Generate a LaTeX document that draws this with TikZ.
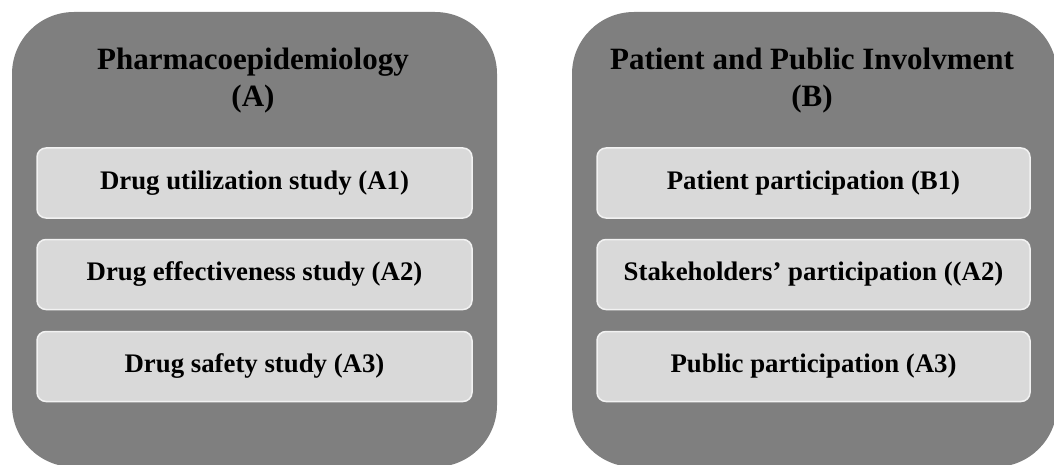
\documentclass[tikz,border=0pt]{standalone}
\usepackage{fontspec}
\setmainfont{Liberation Serif}
\definecolor{outerfill}{HTML}{7F7F7F}
\definecolor{innerfill}{HTML}{D9D9D9}
\definecolor{innerline}{HTML}{F2F2F2}
\begin{document}
\begin{tikzpicture}[x=1pt,y=-1pt,
  panel/.style={draw=none,fill=outerfill,rounded corners=62pt,minimum width=485pt,minimum height=455pt,inner sep=0pt,outer sep=0pt},
  itembox/.style={draw=innerline,line width=1.5pt,fill=innerfill,rounded corners=9pt,minimum width=435pt,minimum height=70pt,inner sep=0pt,
     font=\fontsize{26.8}{30}\selectfont\bfseries},
  titletext/.style={align=center,inner sep=0pt,font=\fontsize{31}{37}\selectfont\bfseries}]
\useasboundingbox (0,0) rectangle (1054,465);
\clip (0,0) rectangle (1054,465);
\node[panel] (pa) at (254.5,239.5) {};
\node[panel] (pb) at (814.5,239.5) {};
\node[titletext,anchor=base] (ta) at (253,107) {Pharmacoepidemiology\\(A)};
\node[titletext,anchor=base] (tb) at (812,107) {Patient and Public Involvment\\(B)};
\node[itembox] (a1) at (254.5,183) {Drug utilization study (A1)};
\node[itembox] (a2) at (254.5,274.5) {Drug effectiveness study (A2)};
\node[itembox] (a3) at (254.5,366.5) {Drug safety study (A3)};
\node[itembox,minimum width=433pt] (b1) at (813.5,183) {Patient participation (B1)};
\node[itembox,minimum width=433pt] (b2) at (813.5,274.5) {Stakeholders’ participation ((A2)};
\node[itembox,minimum width=433pt] (b3) at (813.5,366.5) {Public participation (A3)};
\end{tikzpicture}
\end{document}
